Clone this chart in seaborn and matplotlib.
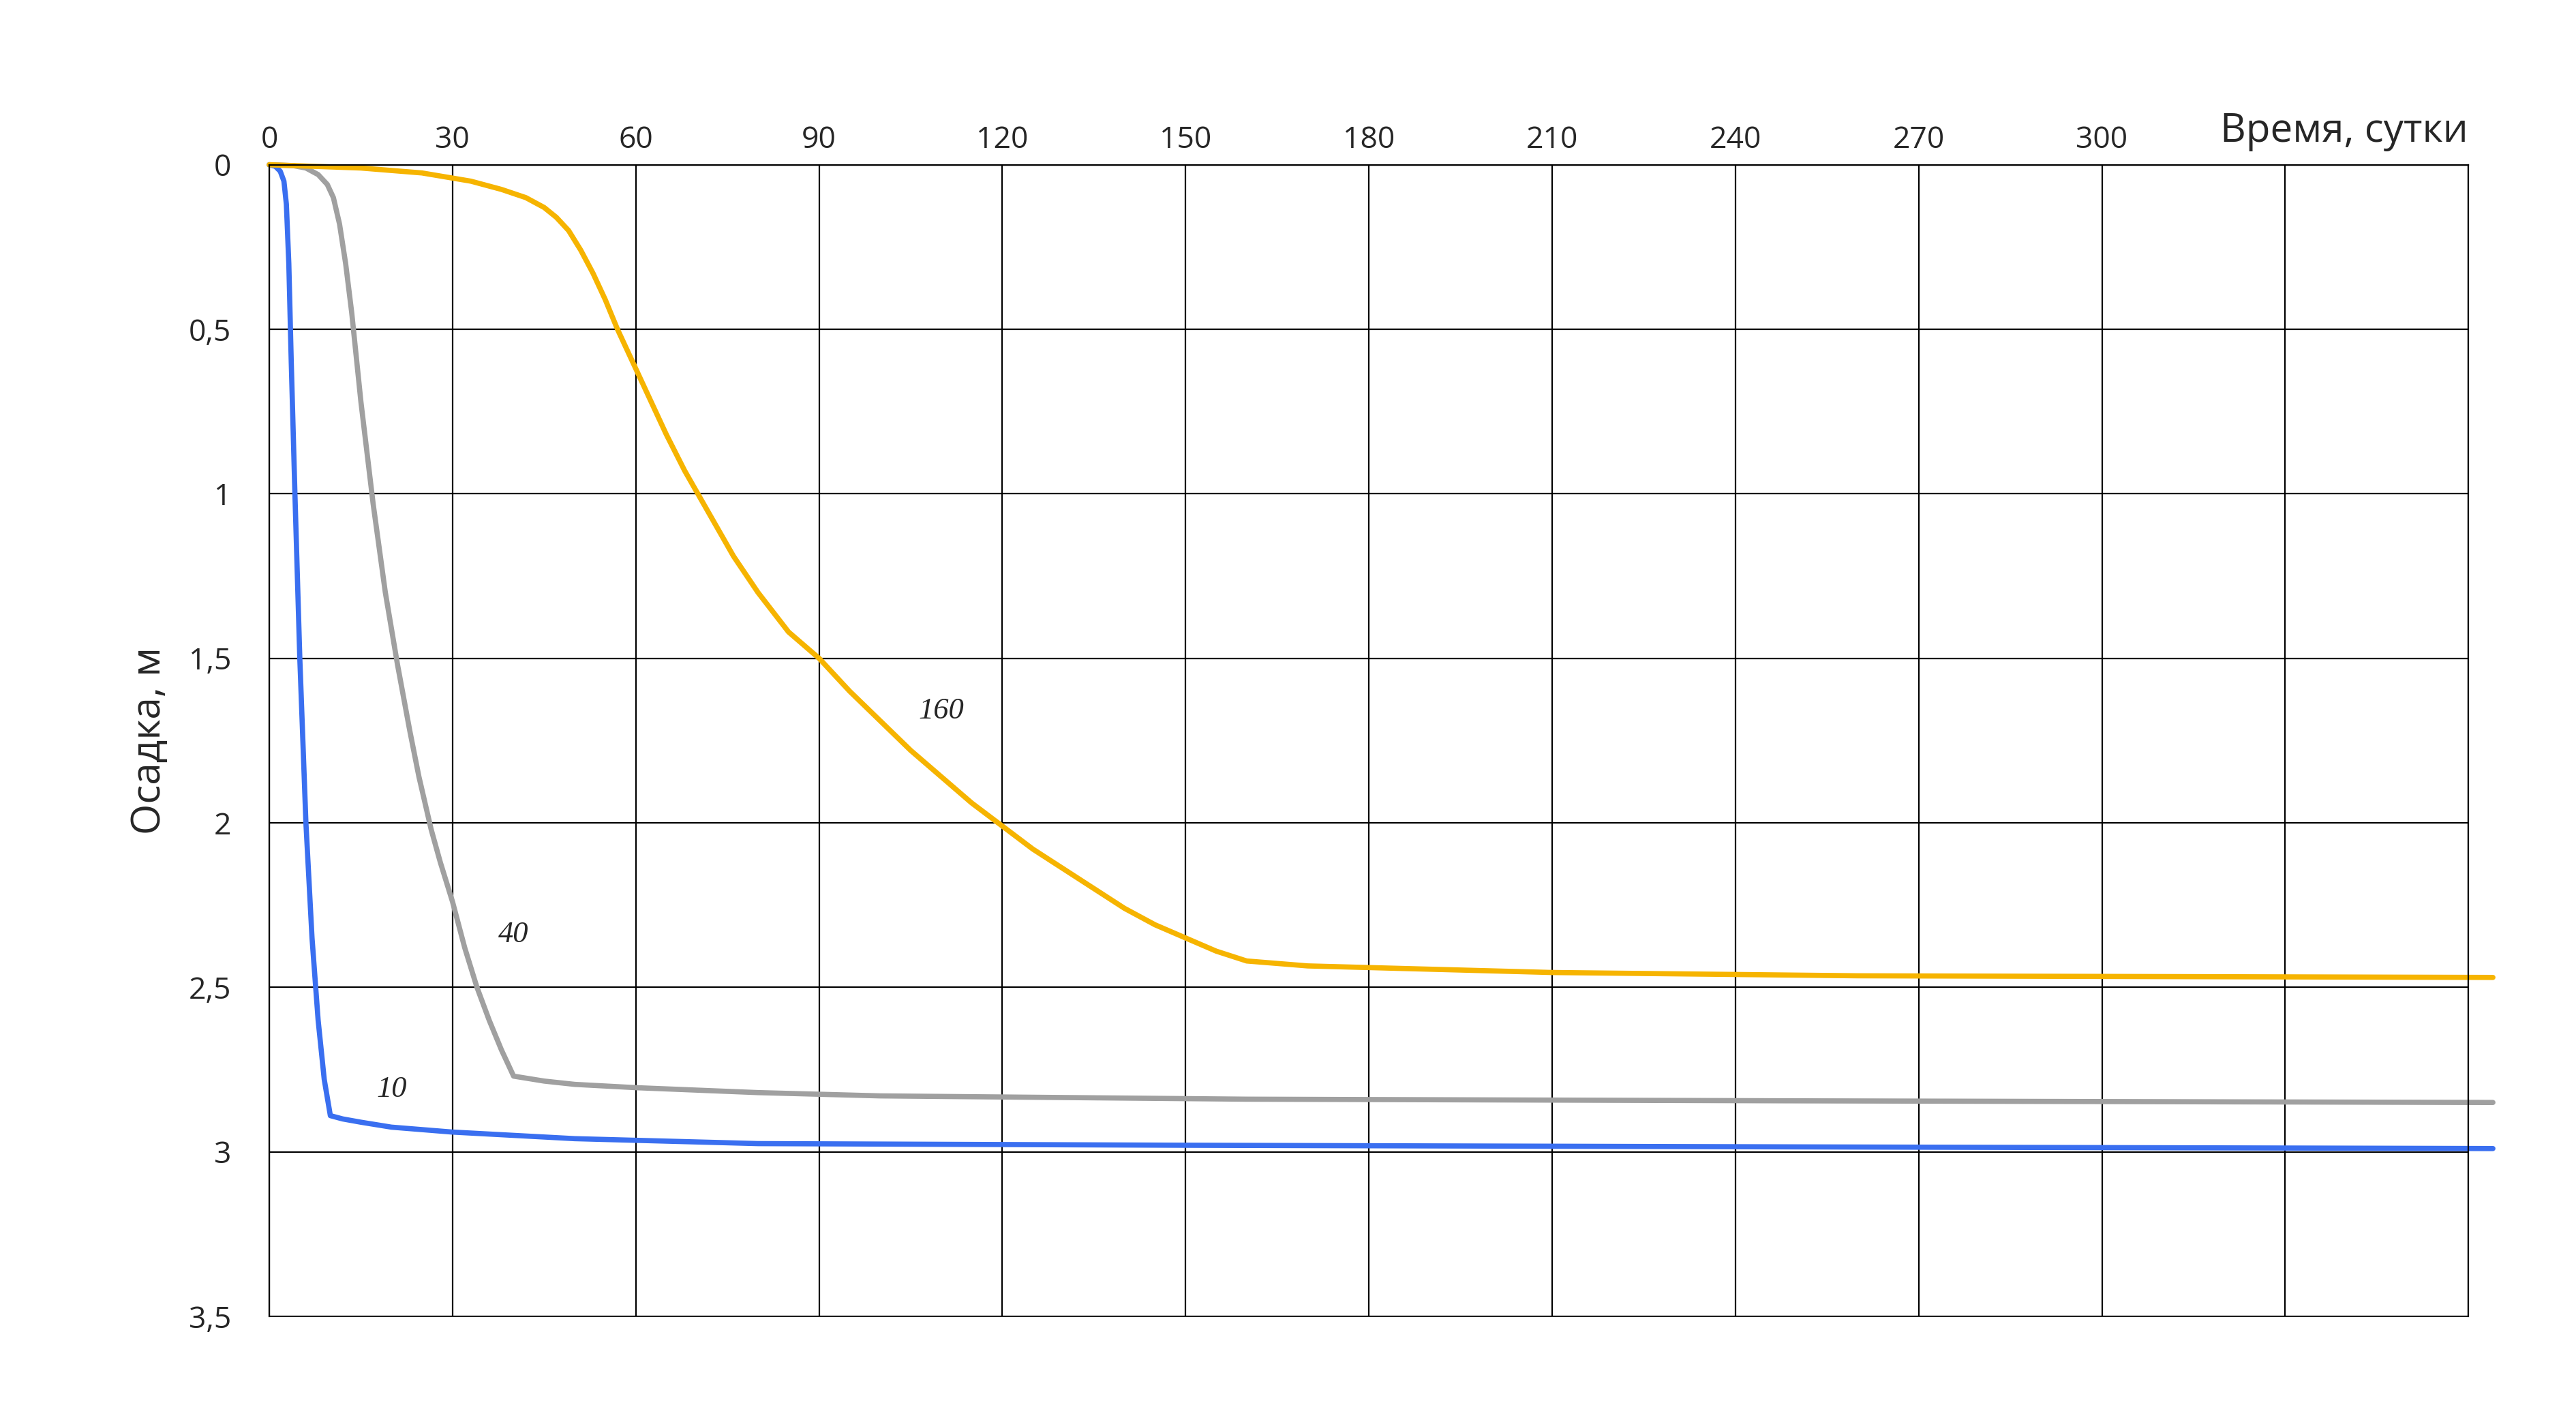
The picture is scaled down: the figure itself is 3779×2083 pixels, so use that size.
import numpy as np
import pandas as pd
import matplotlib
matplotlib.use("Agg")
import matplotlib.pyplot as plt
import seaborn as sns
from matplotlib.ticker import FuncFormatter

# curve "10"
t10 = [0, 1, 1.8, 2.4, 2.8, 3.2, 3.6, 4.2, 5, 6, 7, 8, 9, 10, 12, 15, 20, 30, 50, 80, 150, 250, 364]
s10 = [0, 0.005, 0.02, 0.05, 0.12, 0.3, 0.6, 1.0, 1.5, 2.0, 2.35, 2.6, 2.78, 2.89, 2.9, 2.91, 2.925, 2.94, 2.96, 2.975, 2.98, 2.985, 2.99]

# curve "40"
t40 = [0, 4, 6, 8, 9.5, 10.5, 11.5, 12.5, 13.5, 15, 17, 19, 21, 23, 24.5, 26.5, 28, 30, 32, 34, 36, 38, 40, 45, 50, 60, 80, 100, 160, 250, 364]
s40 = [0, 0.003, 0.01, 0.03, 0.06, 0.1, 0.18, 0.3, 0.45, 0.72, 1.03, 1.3, 1.52, 1.72, 1.86, 2.02, 2.12, 2.24, 2.38, 2.5, 2.6, 2.69, 2.77, 2.785, 2.795, 2.805, 2.82, 2.83, 2.84, 2.845, 2.85]

# curve "160"
t160 = [0, 15, 25, 33, 38, 42, 45, 47, 49, 51, 53, 55, 57, 59, 62, 65, 68, 72, 76, 80, 85, 90, 95, 100, 105, 110, 115, 120, 125, 130, 135, 140, 145, 150, 155, 160, 170, 180, 210, 260, 364]
s160 = [0, 0.01, 0.025, 0.05, 0.075, 0.1, 0.13, 0.16, 0.2, 0.26, 0.33, 0.41, 0.5, 0.58, 0.7, 0.82, 0.93, 1.06, 1.19, 1.3, 1.42, 1.5, 1.6, 1.69, 1.78, 1.86, 1.94, 2.01, 2.08, 2.14, 2.2, 2.26, 2.31, 2.35, 2.39, 2.42, 2.435, 2.44, 2.455, 2.465, 2.47]

labels = ["10", "40", "160"]
label_pos = [(20, 2.81), (40, 2.34), (110, 1.66)]
colors = ["#3a6ff0", "#a0a0a0", "#f6b400"]

sns.set_style("white")
plt.rcParams["font.family"] = ["Open Sans", "DejaVu Sans"]

fig = plt.figure(figsize=(37.8, 20.83), dpi=100)
ax = fig.add_axes([0.1045, 0.073, 0.8535, 0.811])

for t, s, c in zip([t10, t40, t160], [s10, s40, s160], colors):
    df = pd.DataFrame({"t": t, "s": s})
    sns.lineplot(data=df, x="t", y="s", color=c, linewidth=5.5, ax=ax)
for l in ax.get_lines():
    l.set_clip_on(False)

for lab, (x, y) in zip(labels, label_pos):
    ax.text(x, y, lab, fontsize=32, style="italic", family="Liberation Serif",
            ha="center", va="center")

ax.set_xlim(0, 360)
ax.set_ylim(3.5, 0)
ax.set_xticks(np.arange(0, 361, 30))
ax.set_yticks(np.arange(0, 3.51, 0.5))
ax.xaxis.tick_top()
ax.xaxis.set_label_position("top")
ax.xaxis.set_major_formatter(FuncFormatter(lambda v, p: "" if v >= 330 else f"{int(v)}"))
ax.yaxis.set_major_formatter(FuncFormatter(lambda v, p: f"{v:g}".replace(".", ",")))
ax.tick_params(axis="both", length=0, labelsize=32, pad=10)
ax.tick_params(axis="y", pad=40)
ax.grid(True, color="black", linewidth=1.6)
for side in ["left", "bottom", "top", "right"]:
    ax.spines[side].set_visible(True)
    ax.spines[side].set_color("black")
    ax.spines[side].set_linewidth(1.6)
ax.spines["bottom"].set_linewidth(1.2)
ax.set_xlabel("")
ax.set_ylabel("Осадка, м", fontsize=42, labelpad=20)
ax.text(360, -0.04, "Время, сутки", fontsize=42, ha="right", va="bottom")

fig.savefig("out.png", dpi=100)
